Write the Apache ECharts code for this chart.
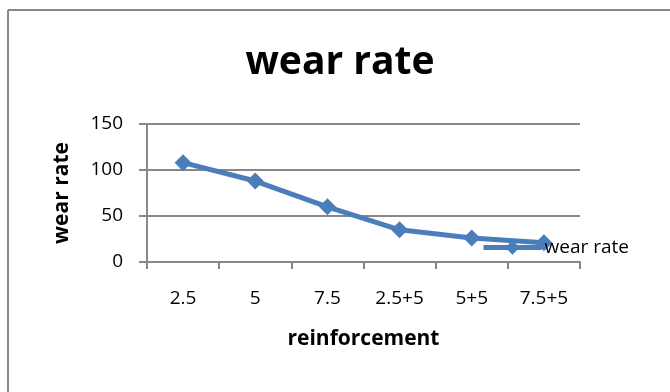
<!DOCTYPE html>
<html>
<head>
<meta charset="utf-8">
<script src="https://cdn.jsdelivr.net/npm/echarts@6/dist/echarts.min.js"></script>
<style>
  html, body { margin: 0; padding: 0; background: #fff; }
  #chart { width: 670px; height: 392px; }
</style>
</head>
<body>
<div id="chart"></div>
<script>
const categories = ["2.5", "5", "7.5", "2.5+5", "5+5", "7.5+5"]
const wearRate = [108, 88, 60, 35, 26, 21]
const yTicks = { min: 0, max: 150, interval: 50 }

const chart = echarts.init(document.getElementById("chart"))
const font = "'Open Sans', sans-serif"

const option = {
  backgroundColor: "#fff",
  textStyle: { fontFamily: font },
  title: {
    text: "wear rate",
    left: 340,
    top: 43,
    textAlign: "center",
    padding: 0,
    textStyle: { fontSize: 39, fontWeight: "bold", color: "#000", fontFamily: font },
  },
  legend: {
    data: ["wear rate"],
    left: 481,
    top: 238,
    padding: 0,
    itemWidth: 58,
    itemHeight: 18,
    itemGap: 0,
    lineStyle: { width: 5 },
    textStyle: { fontSize: 19, color: "#000", padding: [3, 0, 0, -2] },
  },
  grid: { left: 147, right: 90, top: 124, bottom: 130 },
  xAxis: {
    type: "category",
    data: categories,
    name: "reinforcement",
    nameLocation: "middle",
    nameGap: 67,
    nameTextStyle: { fontSize: 21, fontWeight: "bold", color: "#000" },
    axisLine: { lineStyle: { color: "#888", width: 2 } },
    axisTick: { show: true, length: 7, lineStyle: { color: "#888", width: 2 } },
    axisLabel: { fontSize: 19, color: "#000", margin: 27 },
  },
  yAxis: {
    type: "value",
    min: yTicks.min,
    max: yTicks.max,
    interval: yTicks.interval,
    name: "wear rate",
    nameLocation: "middle",
    nameGap: 74,
    nameRotate: 90,
    nameTextStyle: { fontSize: 21, fontWeight: "bold", color: "#000" },
    axisLine: { show: true, lineStyle: { color: "#888", width: 2 } },
    axisTick: { show: true, length: 8, lineStyle: { color: "#888", width: 2 } },
    axisLabel: { fontSize: 19, color: "#000", margin: 24 },
    splitLine: { lineStyle: { color: "#888", width: 2 } },
  },
  graphic: [
    { type: "line", shape: { x1: 8, y1: 10, x2: 670, y2: 10 }, style: { stroke: "#888", lineWidth: 2 } },
    { type: "line", shape: { x1: 8, y1: 10, x2: 8, y2: 392 }, style: { stroke: "#888", lineWidth: 2 } },
  ],
  series: [
    {
      name: "wear rate",
      type: "line",
      data: wearRate,
      symbol: "diamond",
      symbolSize: 17,
      itemStyle: { color: "#4a7ebb" },
      lineStyle: { color: "#4a7ebb", width: 5 },
    },
  ],
}

chart.setOption(option)
</script>
</body>
</html>
